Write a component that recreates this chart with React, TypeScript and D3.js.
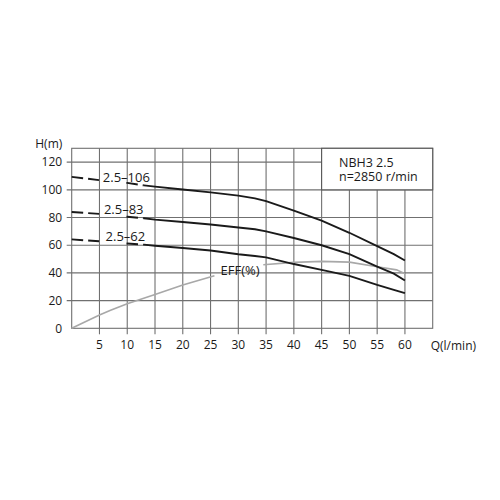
import * as d3 from "d3";

// flow (l/min) sample points
const flow = [0, 5, 10, 13, 15, 20, 25, 30, 33, 35, 40, 45, 50, 55, 58, 60];
const head106 = [109.4, 107, 105, 103.2, 102.3, 100.2, 98.2, 95.8, 93.8, 91.8, 85, 77.7, 69, 59.3, 53.6, 49];
const head83 = [84, 82.6, 80.6, 79.5, 78.5, 76.8, 75, 72.8, 71.5, 70, 65.2, 60, 53.6, 44.6, 39.5, 34.5];
const head62 = [64.2, 62.8, 61.2, 60.4, 59.6, 58, 56.2, 53.5, 52.2, 51.2, 46.4, 42.2, 37.9, 31.4, 27.8, 25.4];

const effFlowA = [0, 5, 7, 10, 15, 20, 25.7];
const effA = [0, 9.6, 13, 17.8, 24.4, 31.2, 37.9];
const effFlowB = [34.5, 40, 45, 50, 55, 58.5, 60];
const effB = [45.9, 47.6, 48.3, 47.8, 44.4, 42.2, 39.5];

const curveNames = ["2.5–106", "2.5–83", "2.5–62"];
const labelQ = [5.6, 5.8, 6.1];
const labelH = [105.9, 82.3, 63];

const xTicks = [5, 10, 15, 20, 25, 30, 35, 40, 45, 50, 55, 60];
const yTicks = [0, 20, 40, 60, 80, 100, 120];

const boxLines = ["NBH3 2.5", "n=2850 r/min"];

const FONT = "'Open Sans', 'DejaVu Sans', sans-serif";
const GRID = "#707070";
const INK = "#1a1a1a";

export default function App() {
  const x = d3.scaleLinear().domain([0, 65]).range([71.7, 432.7]);
  const y = d3.scaleLinear().domain([0, 130]).range([328.3, 148.3]);

  const line = d3
    .line<[number, number]>()
    .x((d) => x(d[0]))
    .y((d) => y(d[1]));

  const series = [head106, head83, head62];
  const splitQ = 13;

  const dashedPart = (h: number[]) =>
    flow.map((q, i) => [q, h[i]] as [number, number]).filter((d) => d[0] <= splitQ);
  const solidPart = (h: number[]) =>
    flow.map((q, i) => [q, h[i]] as [number, number]).filter((d) => d[0] >= splitQ);

  const effA_pts = effFlowA.map((q, i) => [q, effA[i]] as [number, number]);
  const effB_pts = effFlowB.map((q, i) => [q, effB[i]] as [number, number]);

  return (
    <svg
      width={500}
      height={500}
      style={{ position: "absolute", left: 0, top: 0, background: "#fff" }}
      fontFamily={FONT}
    >
      {/* grid + ticks */}
      {xTicks.map((t) => (
        <line key={"gx" + t} x1={x(t)} x2={x(t)} y1={y(0) + 6} y2={y(130)} stroke={GRID} strokeWidth={1.1} />
      ))}
      {yTicks.filter((t) => t > 0).map((t) => (
        <line key={"gy" + t} x1={x(0) - 5} x2={x(65)} y1={y(t)} y2={y(t)} stroke={GRID} strokeWidth={1.1} />
      ))}
      <rect
        x={x(0)}
        y={y(130)}
        width={x(65) - x(0)}
        height={y(0) - y(130)}
        fill="none"
        stroke={GRID}
        strokeWidth={1.1}
      />

      {/* legend box */}
      <rect
        x={x(45)}
        y={y(130)}
        width={x(65) - x(45)}
        height={y(100) - y(130)}
        fill="#fff"
        stroke="#555"
        strokeWidth={1.1}
      />
      <text x={339} y={166.5} fontSize={12.5} fill={INK}>
        {boxLines.map((s, i) => (
          <tspan key={s} x={339} dy={i === 0 ? 0 : 14.2}>
            {s}
          </tspan>
        ))}
      </text>

      {/* tick labels */}
      {xTicks.map((t) => (
        <text key={"tx" + t} x={x(t)} y={y(0) + 21} fontSize={12} textAnchor="middle" fill={INK}>
          {t}
        </text>
      ))}
      {yTicks.map((t) => (
        <text key={"ty" + t} x={x(0) - 9.5} y={y(t)} dy="0.35em" fontSize={12} textAnchor="end" fill={INK}>
          {t}
        </text>
      ))}
      <text x={62.3} y={148.3} fontSize={12} textAnchor="end" fill={INK}>
        H(m)
      </text>
      <text x={430.7} y={350} fontSize={12} fill={INK}>
        Q(l/min)
      </text>

      {/* efficiency curve */}
      <path d={line(effA_pts) ?? ""} fill="none" stroke="#a8a8a8" strokeWidth={1.6} />
      <path d={line(effB_pts) ?? ""} fill="none" stroke="#a8a8a8" strokeWidth={1.6} />
      <text x={x(26.8)} y={y(38.5)} fontSize={13} fill={INK}>
        EFF(%)
      </text>

      {/* head curves */}
      {series.map((h, i) => (
        <g key={curveNames[i]}>
          <path
            d={line(dashedPart(h)) ?? ""}
            fill="none"
            stroke={INK}
            strokeWidth={1.9}
            strokeDasharray="11.5,5,11,27.5,11.5,5"
          />
          <path d={line(solidPart(h)) ?? ""} fill="none" stroke={INK} strokeWidth={1.9} />
          <text x={x(labelQ[i])} y={y(labelH[i])} fontSize={13} fill={INK}>
            {curveNames[i]}
          </text>
        </g>
      ))}
    </svg>
  );
}
